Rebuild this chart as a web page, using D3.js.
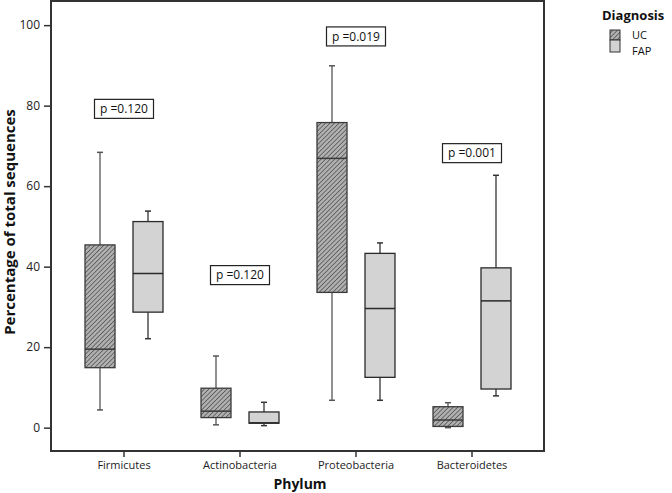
<!DOCTYPE html>
<html><head><meta charset="utf-8">
<script src="https://cdn.jsdelivr.net/npm/d3@7"></script>
<style>body{margin:0;background:#fff}svg{display:block}</style>
</head><body>
<script>
const categories = ["Firmicutes","Actinobacteria","Proteobacteria","Bacteroidetes"];
const groups = ["UC","FAP"];
const ucMin    = [4.4, 0.7, 6.8, 0.0];
const ucQ1     = [14.9, 2.5, 33.6, 0.3];
const ucMedian = [19.5, 4.1, 66.9, 1.9];
const ucQ3     = [45.4, 9.8, 75.8, 5.2];
const ucMax    = [68.4, 17.8, 89.9, 6.2];
const fapMin    = [22.1, 0.5, 6.8, 7.9];
const fapQ1     = [28.7, 1.1, 12.5, 9.6];
const fapMedian = [38.3, 1.2, 29.6, 31.5];
const fapQ3     = [51.2, 3.9, 43.3, 39.7];
const fapMax    = [53.8, 6.3, 45.9, 62.7];
const pLabels = ["p =0.120","p =0.120","p =0.019","p =0.001"];
const pY = [79.2, 37.9, 97.2, 68.2];
const yTicks = [0,20,40,60,80,100];

const W = 672, H = 493;
const frame = {left:51, right:544, top:1, bottom:451};
const svg = d3.select("body").append("svg").attr("width",W).attr("height",H);
const font = "'Open Sans', sans-serif";

const defs = svg.append("defs");
const pat = defs.append("pattern").attr("id","hatch").attr("patternUnits","userSpaceOnUse")
  .attr("width",3.2).attr("height",3.2).attr("patternTransform","rotate(45)");
pat.append("rect").attr("width",3.2).attr("height",3.2).attr("fill","#b0b0b0");
pat.append("line").attr("x1",0).attr("y1",0).attr("x2",0).attr("y2",3.2)
  .attr("stroke","#444").attr("stroke-width",1.3);

const x = d3.scaleBand().domain(categories).range([66,530]);
const xg = d3.scalePoint().domain(groups).range([34,82]);
const y = d3.scaleLinear().domain([-5.8,106.0]).range([frame.bottom, frame.top]);

const rows = [];
categories.forEach((c,i)=>{
  rows.push({cat:c, g:"UC", min:ucMin[i], q1:ucQ1[i], med:ucMedian[i], q3:ucQ3[i], max:ucMax[i]});
  rows.push({cat:c, g:"FAP", min:fapMin[i], q1:fapQ1[i], med:fapMedian[i], q3:fapQ3[i], max:fapMax[i]});
});
const bw = 30, cap = 6;
const gBox = svg.append("g");
rows.forEach(d=>{
  const cx = x(d.cat) + xg(d.g);
  const g = gBox.append("g");
  const wc = d.g==="UC" ? "#555" : "#333";
  g.append("line").attr("x1",cx).attr("x2",cx).attr("y1",y(d.max)).attr("y2",y(d.q3)).attr("stroke",wc).attr("stroke-width",1.3);
  g.append("line").attr("x1",cx).attr("x2",cx).attr("y1",y(d.q1)).attr("y2",y(d.min)).attr("stroke",wc).attr("stroke-width",1.3);
  g.append("line").attr("x1",cx-cap/2).attr("x2",cx+cap/2).attr("y1",y(d.max)).attr("y2",y(d.max)).attr("stroke",wc).attr("stroke-width",1.5);
  g.append("line").attr("x1",cx-cap/2).attr("x2",cx+cap/2).attr("y1",y(d.min)).attr("y2",y(d.min)).attr("stroke",wc).attr("stroke-width",1.5);
  g.append("rect").attr("x",cx-bw/2).attr("y",y(d.q3)).attr("width",bw).attr("height",y(d.q1)-y(d.q3))
    .attr("fill", d.g==="UC" ? "url(#hatch)" : "#d3d3d3")
    .attr("stroke", d.g==="UC" ? "#3a3a3a" : "#2a2a2a").attr("stroke-width",1.3);
  g.append("line").attr("x1",cx-bw/2).attr("x2",cx+bw/2).attr("y1",y(d.med)).attr("y2",y(d.med))
    .attr("stroke", d.g==="UC" ? "#3a3a3a" : "#2a2a2a").attr("stroke-width",1.5);
});

// p-value labels
categories.forEach((c,i)=>{
  const cx = x(c) + x.bandwidth()/2, cy = y(pY[i]);
  svg.append("rect").attr("x",cx-29.5).attr("y",cy-9.5).attr("width",59).attr("height",19)
    .attr("fill","#fff").attr("stroke","#222").attr("stroke-width",1.2);
  svg.append("text").attr("x",cx).attr("y",cy).attr("dy","0.35em").attr("text-anchor","middle")
    .attr("font-family",font).attr("font-size",12).attr("fill","#111").text(pLabels[i]);
});

// frame
svg.append("rect").attr("x",frame.left).attr("y",frame.top).attr("width",frame.right-frame.left)
  .attr("height",frame.bottom-frame.top).attr("fill","none").attr("stroke","#333").attr("stroke-width",2);

// axes
const ya = svg.append("g").attr("transform",`translate(${frame.left},0)`)
  .call(d3.axisLeft(y).tickValues(yTicks).tickSize(7).tickPadding(4));
ya.select(".domain").remove();
ya.selectAll(".tick line").attr("stroke","#333").attr("stroke-width",1.5);
ya.selectAll(".tick text").attr("font-family",font).attr("font-size",12).attr("fill","#222");

const xa = svg.append("g").attr("transform",`translate(0,${frame.bottom})`)
  .call(d3.axisBottom(x).tickSize(6).tickPadding(4));
xa.select(".domain").remove();
xa.selectAll(".tick line").attr("stroke","#333").attr("stroke-width",1.5);
xa.selectAll(".tick text").attr("font-family",font).attr("font-size",11).attr("fill","#222");

// axis titles
svg.append("text").attr("transform","translate(15,222) rotate(-90)").attr("text-anchor","middle")
  .attr("font-family",font).attr("font-weight","bold").attr("font-size",15).attr("fill","#111")
  .text("Percentage of total sequences");
svg.append("text").attr("x",300).attr("y",489).attr("text-anchor","middle")
  .attr("font-family",font).attr("font-weight","bold").attr("font-size",14).attr("fill","#111")
  .text("Phylum");

// legend
const lg = svg.append("g");
lg.append("text").attr("x",602).attr("y",20).attr("font-family",font).attr("font-weight","bold")
  .attr("font-size",13).attr("fill","#111").text("Diagnosis");
const swY = [30, 40], swH = [10, 12], txY = [35.5, 51];
groups.forEach((gname,i)=>{
  lg.append("rect").attr("x",610).attr("y",swY[i]).attr("width",10).attr("height",swH[i])
    .attr("fill", gname==="UC" ? "url(#hatch)" : "#d3d3d3").attr("stroke","#333").attr("stroke-width",1);
  lg.append("text").attr("x",632).attr("y",txY[i]).attr("dy","0.35em").attr("font-family",font)
    .attr("font-size",11).attr("fill","#111").text(gname);
});
</script>
</body></html>
